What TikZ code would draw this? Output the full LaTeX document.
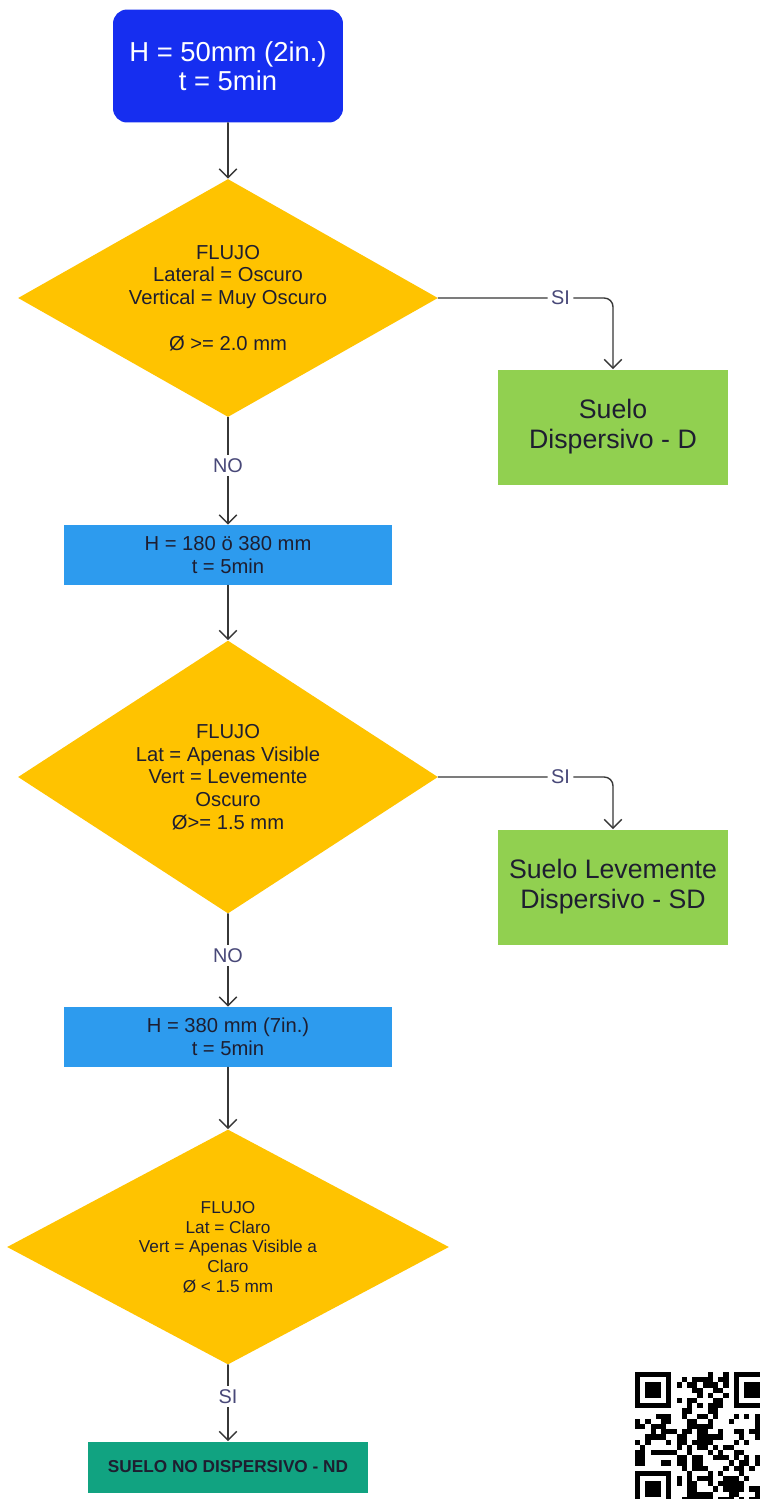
\documentclass[tikz,border=0pt]{standalone}
\usepackage{fontspec}
\setmainfont{Liberation Sans}
\usetikzlibrary{shapes.geometric}
\usetikzlibrary{arrows.meta}

\definecolor{startblue}{RGB}{22,46,240}
\definecolor{flowyellow}{RGB}{255,195,0}
\definecolor{stepblue}{RGB}{45,155,238}
\definecolor{soilgreen}{RGB}{145,208,80}
\definecolor{soilteal}{RGB}{17,163,129}
\definecolor{inkdark}{RGB}{30,30,48}
\definecolor{labelink}{RGB}{72,72,120}
\definecolor{lineink}{RGB}{55,55,55}

\begin{document}
\begin{tikzpicture}
     [x=0.02cm,y=-0.02cm,line cap=round,
      >={Straight Barb[length=5pt,width=10pt]},
      % Styles
        start box/.style={rounded corners=8pt,fill=startblue,text=white,align=center,
          minimum width=4.6cm,minimum height=2.26cm,font=\fontsize{15.6}{16.8}\selectfont},
        decision/.style={diamond,fill=flowyellow,text=inkdark,align=center,inner sep=0pt},
        stepbox/.style={fill=stepblue,text=inkdark,align=center,minimum width=6.58cm,
          minimum height=1.2cm,font=\fontsize{11.5}{12.9}\selectfont},
        result/.style={fill=soilgreen,text=inkdark,align=center,minimum width=4.6cm,
          minimum height=2.3cm,font=\fontsize{15.2}{17}\selectfont},
        final/.style={fill=soilteal,text=inkdark,align=center,minimum width=5.6cm,
          minimum height=1.02cm,font=\fontsize{9.8}{11}\selectfont\bfseries},
        connector/.style={draw=lineink,line width=0.8pt,->},
        answer/.style={fill=white,text=labelink,inner sep=2pt,font=\fontsize{11.3}{13}\selectfont}]
    \fill[white] (0,0) rectangle (760,1499);
    \useasboundingbox (0,0) rectangle (760,1499);

    % boxes and decisions
    \node[start box] (start) at (228,66) {H = 50mm (2in.)\\t = 5min};
    \node[decision,aspect=1.76,minimum width=8.4cm,minimum height=4.76cm,
          font=\fontsize{11.5}{13}\selectfont] (flow1) at (228,298)
          {FLUJO\\Lateral = Oscuro\\Vertical = Muy Oscuro\\[13pt]Ø >= 2.0 mm};
    \node[result] (soilD) at (613,427) {Suelo\\Dispersivo - D};
    \node[stepbox] (step2) at (228,555) {H = 180 ö 380 mm\\t = 5min};
    \node[decision,aspect=1.54,minimum width=8.4cm,minimum height=5.46cm,
          font=\fontsize{11.5}{12.9}\selectfont] (flow2) at (228,777)
          {FLUJO\\Lat = Apenas Visible\\Vert = Levemente\\Oscuro\\Ø>= 1.5 mm};
    \node[result] (soilSD) at (613,887) {Suelo Levemente\\Dispersivo - SD};
    \node[stepbox] (step3) at (228,1037) {H = 380 mm (7in.)\\t = 5min};
    \node[decision,aspect=1.88,minimum width=8.84cm,minimum height=4.7cm,
          font=\fontsize{9.8}{11.2}\selectfont] (flow3) at (228,1247)
          {FLUJO\\Lat = Claro\\Vert = Apenas Visible a\\Claro\\Ø < 1.5 mm};
    \node[final] (soilND) at (228,1467) {SUELO NO DISPERSIVO - ND};

    % connectors
    \draw[connector] (start) -- (flow1);
    \draw[connector,rounded corners=5pt] (flow1.east) -| (soilD.north) node[pos=0.35,answer]{SI};
    \draw[connector] (flow1) -- (step2) node[pos=0.45,answer]{NO};
    \draw[connector] (step2) -- (flow2);
    \draw[connector,rounded corners=5pt] (flow2.east) -| (soilSD.north) node[pos=0.35,answer]{SI};
    \draw[connector] (flow2) -- (step3) node[pos=0.45,answer]{NO};
    \draw[connector] (step3) -- (flow3);
    \draw[connector] (flow3) -- (soilND) node[pos=0.42,answer]{SI};

    % QR code in the corner
    \begin{scope}
      \clip (0,0) rectangle (760,1499);
      \pgfmathsetseed{17}
      \foreach \i in {0,...,25}
        \foreach \j in {0,...,25}{
          \pgfmathtruncatemacro\bit{rnd<0.5}
          \ifnum\bit=1
            \fill (635+\i*5.2,1372+\j*5.2) rectangle ++(5.2,5.2);
          \fi
        }
      \foreach \fx/\fy in {0/0,19/0,0/19}{
        \fill[white] (635+\fx*5.2-5.2,1372+\fy*5.2-5.2) rectangle ++(46.8,46.8);
        \fill (635+\fx*5.2,1372+\fy*5.2) rectangle ++(36.4,36.4);
        \fill[white] (635+\fx*5.2+5.2,1372+\fy*5.2+5.2) rectangle ++(26,26);
        \fill (635+\fx*5.2+10.4,1372+\fy*5.2+10.4) rectangle ++(15.6,15.6);
      }
    \end{scope}
  \end{tikzpicture}
\end{document}
